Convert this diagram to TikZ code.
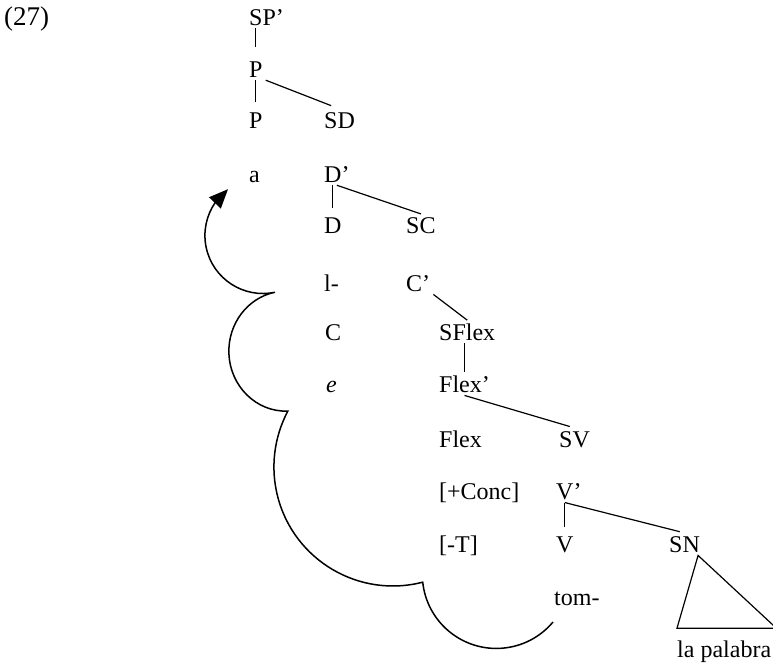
\documentclass[tikz,border=0pt]{standalone}
\usepackage{fontspec}
\setmainfont{Liberation Serif}
\usetikzlibrary{arrows.meta,bending}

\begin{document}
\begin{tikzpicture}[x=1pt,y=1pt,
  lab/.style={anchor=base west,inner sep=3pt,font=\fontsize{24}{28}\selectfont},
  branch/.style={line width=1.2pt},
  cloud/.style={line width=1.5pt}]

\useasboundingbox (0,0) rectangle (773,-664);

% Example number
\node[lab,inner sep=0pt,font=\fontsize{27}{30}\selectfont] (num) at (4,-25) {(27)};

% Labels, row by row
\node[lab] (spbar) at (246,-25) {SP’};
\node[lab] (pbar) at (246,-77) {P};
\node[lab] (p) at (246,-128) {P};
\node[lab] (sd) at (321,-128) {SD};
\node[lab] (a) at (246,-182) {a};
\node[lab] (dbar) at (321,-182) {D’};
\node[lab] (d) at (321,-233) {D};
\node[lab] (sc) at (403,-233) {SC};
\node[lab] (l) at (321,-291) {l-};
\node[lab] (cbar) at (403,-291) {C’};
\node[lab] (c) at (322,-340) {C};
\node[lab] (sflex) at (436,-340) {SFlex};
\node[lab] (e) at (323,-392) {\textit{e}};
\node[lab] (flexbar) at (436,-392) {Flex’};
\node[lab] (flex) at (436,-447) {Flex};
\node[lab] (sv) at (556,-447) {SV};
\node[lab] (conc) at (436,-499) {[+Conc]};
\node[lab] (vbar) at (553,-499) {V’};
\node[lab] (t) at (436,-552) {[-T]};
\node[lab] (v) at (553,-552) {V};
\node[lab] (sn) at (666,-552) {SN};
\node[lab] (tom) at (551,-605) {tom-};
\node[lab] (palabra) at (674,-657) {la palabra};

% Branches
\draw[branch, shorten >=11pt] (pbar.north |- spbar.south) -- (pbar.north);
\draw[branch, shorten >=7pt] (p.north |- pbar.south) -- (p.north);
\draw[branch, shorten >=9pt] (pbar.south east) -- (sd.north);
\draw[branch, shorten >=6pt] (d.north |- dbar.south) -- (d.north);
\draw[branch] (dbar.south) -- (sc.north);
\draw[branch] (cbar.south east) -- (sflex.north);
\draw[branch] (flexbar.north |- sflex.south) -- (flexbar.north);
\draw[branch, shorten >=5pt] (flexbar.south) -- (sv.north);
\draw[branch, shorten >=6pt] (v.north |- vbar.south) -- (v.north);
\draw[branch, shorten >=5pt] (v.north |- vbar.south) -- (sn.north);

% Triangle over la palabra
\draw[branch] ([xshift=-5pt]sn.south east) -- ([shift={(3pt,9pt)}]palabra.north west)
  -- ([shift={(2pt,9pt)}]palabra.north east) -- cycle;

% Cloud path with arrow
\coordinate (cloudend) at (553,-622);
\draw[cloud, -{Triangle[length=19pt,width=16pt,flex]}] (cloudend)
  arc[start angle=320, end angle=186, radius=74]
  arc[start angle=284.5, end angle=152, radius=119]
  arc[start angle=272, end angle=101, x radius=57, y radius=60]
  arc[start angle=282, end angle=127, radius=58];

\end{tikzpicture}
\end{document}
